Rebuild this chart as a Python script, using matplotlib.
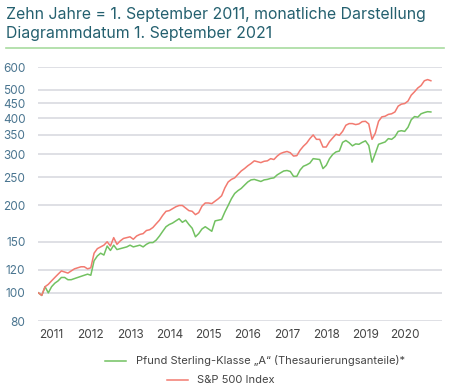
import matplotlib
matplotlib.use("Agg")
import matplotlib.pyplot as plt
from matplotlib.lines import Line2D
from matplotlib.ticker import FixedLocator, NullLocator

plt.rcParams['font.family'] = ['Inter', 'DejaVu Sans']

title_lines = ["Zehn Jahre = 1. September 2011, monatliche Darstellung",
               "Diagrammdatum 1. September 2021"]
series_names = ["Pfund Sterling-Klasse \u201eA\u201c (Thesaurierungsanteile)*",
                "S&P 500 Index"]
year_labels = ["2011", "2012", "2013", "2014", "2015", "2016", "2017", "2018", "2019", "2020"]
y_ticks = [80, 100, 120, 150, 200, 250, 300, 350, 400, 450, 500, 600]

fund = [100, 98, 105, 100, 105, 108, 110, 113, 113, 111, 111, 112, 113, 114, 115, 116, 115,
        129, 134, 137, 135, 145, 140, 146, 141, 142, 143, 144, 146, 144, 145, 146, 144,
        147, 149, 149, 152, 157, 163, 169, 172, 174, 177, 180, 175, 178, 172, 167, 156,
        160, 166, 169, 166, 163, 177, 178, 179, 190, 200, 211, 220, 225, 229, 235, 241,
        245, 246, 244, 242, 245, 246, 248, 249, 255, 259, 263, 264, 262, 252, 252, 265,
        273, 276, 280, 290, 289, 288, 268, 275, 290, 300, 306, 308, 330, 335, 329, 321,
        326, 325, 330, 334, 322, 282, 302, 325, 328, 331, 340, 338, 345, 360, 362, 360,
        372, 395, 405, 403, 414, 418, 421, 420]

sp500 = [100, 98, 105, 107, 110, 113, 116, 119, 118, 117, 119, 121, 122, 123, 123, 121, 122,
         137, 142, 144, 146, 150, 145, 155, 147, 151, 154, 155, 156, 153, 157, 159, 160,
         164, 165, 168, 173, 178, 185, 191, 192, 195, 198, 200, 200, 196, 192, 191, 186,
         189, 199, 204, 204, 203, 207, 211, 216, 230, 241, 246, 249, 256, 263, 268, 274,
         279, 285, 283, 281, 284, 285, 290, 288, 296, 302, 305, 307, 304, 296, 297, 310,
         320, 328, 340, 350, 338, 338, 318, 318, 332, 342, 352, 349, 360, 378, 383, 383,
         380, 382, 389, 390, 382, 338, 355, 390, 404, 406, 412, 414, 420, 440, 447, 449,
         458, 480, 493, 508, 518, 538, 543, 538]

months = list(range(len(fund)))
tick_pos = [4 + 12 * k for k in range(len(year_labels))]

green = "#72c161"
red = "#f27a70"
teal = "#24606f"
grid_c = "#d6d7de"
ytick_c = "#4a7590"
text_c = "#444444"

W, H = 450, 391
fig = plt.figure(figsize=(W / 100, H / 100), dpi=100)
ax = fig.add_axes([38 / W, 1 - 321 / H, (442 - 38) / W, (321 - 67) / H])

ax.plot(months, fund, color=green, lw=1.1, zorder=3)
ax.plot(months, sp500, color=red, lw=1.1, zorder=3)

ax.set_yscale('log')
ax.set_ylim(80, 600)
ax.set_xlim(-0.15, 123.4)
ax.yaxis.set_major_locator(FixedLocator(y_ticks))
ax.yaxis.set_minor_locator(NullLocator())
ax.set_yticklabels([str(v) for v in y_ticks])
ax.set_xticks(tick_pos)
ax.set_xticklabels(year_labels)
ax.grid(axis='y', color=grid_c, lw=1.1, zorder=0)
for s in ax.spines.values():
    s.set_visible(False)
ax.tick_params(axis='y', length=0, pad=9, labelsize=8.5, labelcolor=ytick_c)
ax.tick_params(axis='x', length=0, pad=6, labelsize=8.5, labelcolor=text_c)

fig.text(6 / W, 1 - 19 / H, title_lines[0], fontsize=11.4, color=teal, va='baseline', ha='left')
fig.text(6 / W, 1 - 38 / H, title_lines[1], fontsize=11.4, color=teal, va='baseline', ha='left')
fig.add_artist(Line2D([6 / W, 444 / W], [1 - 47.5 / H, 1 - 47.5 / H], color="#a8dba0", lw=1.2,
                      transform=fig.transFigure))

fig.add_artist(Line2D([105 / W, 126 / W], [1 - 361 / H, 1 - 361 / H], color=green, lw=1.1,
                      transform=fig.transFigure))
fig.text(136 / W, 1 - 361 / H, series_names[0], fontsize=8.0, color=text_c, va='center', ha='left')
fig.add_artist(Line2D([167 / W, 188 / W], [1 - 380 / H, 1 - 380 / H], color=red, lw=1.1,
                      transform=fig.transFigure))
fig.text(197 / W, 1 - 380 / H, series_names[1], fontsize=8.0, color=text_c, va='center', ha='left')

fig.savefig("out.png", dpi=100)
